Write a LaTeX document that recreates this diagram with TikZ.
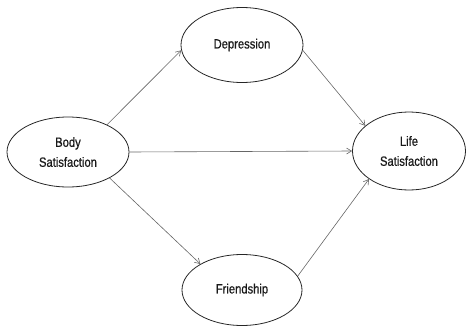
\documentclass[tikz,border=0pt]{standalone}
\usepackage{fontspec}
\setmainfont{Liberation Sans}[FakeStretch=0.83,FakeBold=0.6]
\usetikzlibrary{shapes.geometric,arrows.meta}
\begin{document}
\begin{tikzpicture}[x=1pt,y=-1pt,
  var/.style={ellipse,draw=black!85,line width=0.8pt,inner sep=0pt,text=black!90,font=\fontsize{13.5}{20}\selectfont,align=center},
  link/.style={draw=black!60,line width=0.6pt,-{Straight Barb[length=5pt,width=6pt]}}]
\useasboundingbox (0,0) rectangle (467,327);
\node[var,minimum width=122pt,minimum height=70pt] (body) at (68,152) {Body\\Satisfaction};
\node[var,minimum width=122pt,minimum height=75pt] (dep) at (242,45) {Depression};
\node[var,minimum width=113pt,minimum height=78pt] (life) at (409,151) {Life\\Satisfaction};
\node[var,minimum width=120pt,minimum height=71pt] (fri) at (242,290) {Friendship};
\draw[link] (body.35) -- (dep.185);
\draw[link] (body.east) -- (life.west);
\draw[link] (body.-32) -- (fri.148);
\draw[link] (dep.-5) -- (life.150);
\draw[link] (fri.14) -- (life.215);
\end{tikzpicture}
\end{document}
